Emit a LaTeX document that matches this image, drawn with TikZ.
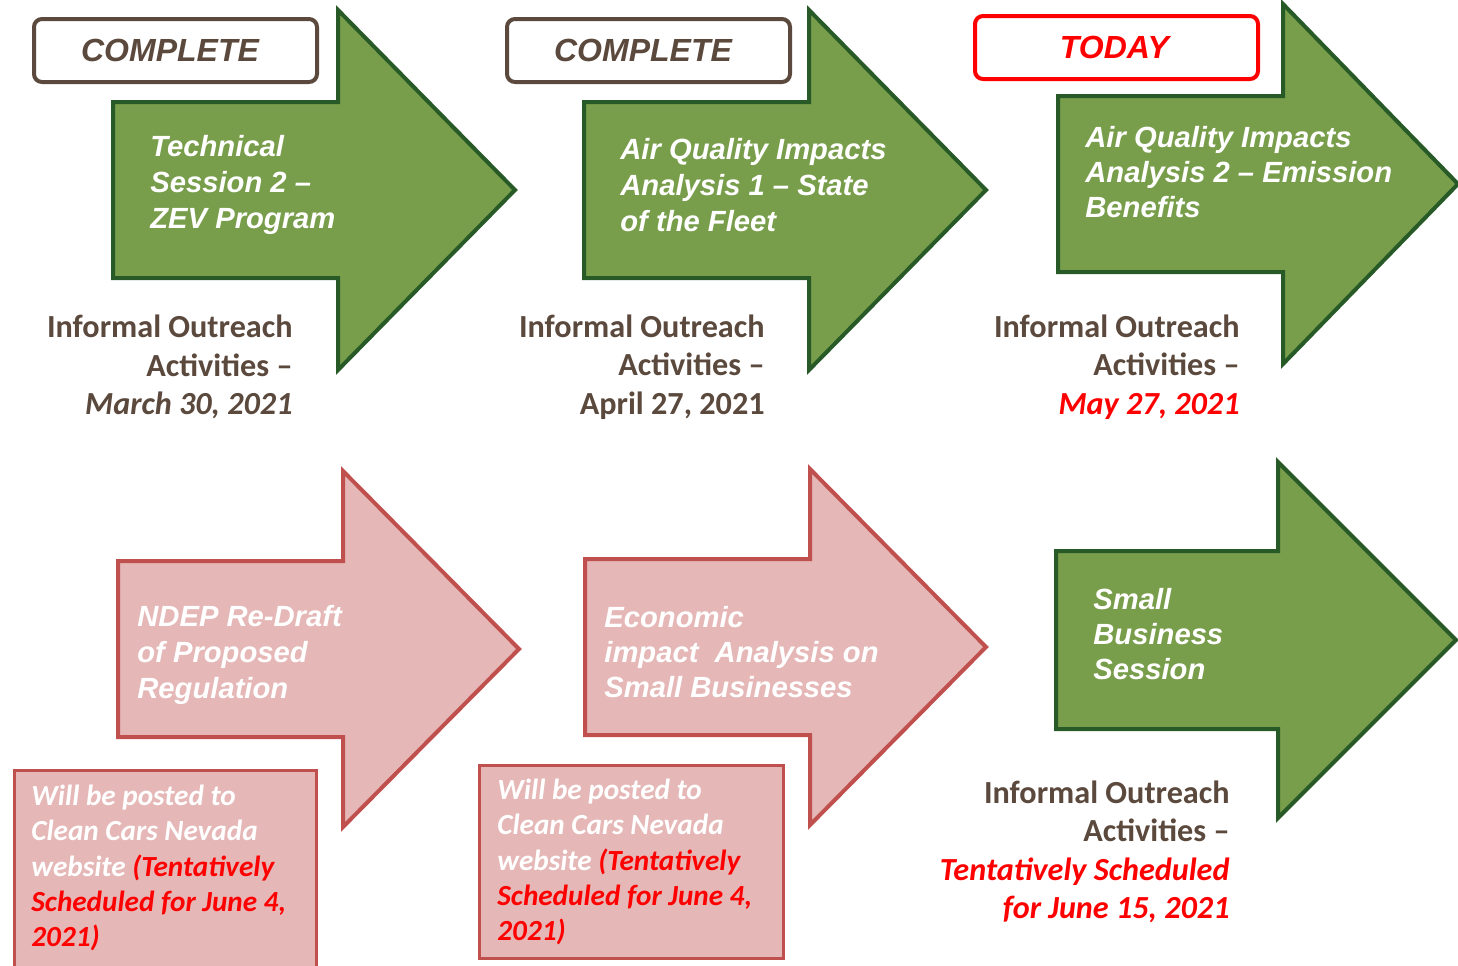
\documentclass[tikz,border=0pt]{standalone}
\usepackage{fontspec}
\setmainfont{Liberation Sans}
\newfontfamily\calibri{Carlito}
\definecolor{leaf}{RGB}{121,158,75}
\definecolor{leafedge}{RGB}{40,90,40}
\definecolor{blush}{RGB}{229,184,183}
\definecolor{blushedge}{RGB}{192,80,77}
\definecolor{bark}{RGB}{90,73,60}
\definecolor{alert}{RGB}{255,0,0}

\begin{document}
\begin{tikzpicture}
[x=0.5pt,y=-0.5pt
,garrow/.style={draw=leafedge,fill=leaf,line width=2pt}
,parrow/.style={draw=blushedge,fill=blush,line width=2pt}
,title/.style={font=\bfseries\itshape\fontsize{14.6}{18}\selectfont,text=white,align=left,anchor=west,inner sep=0pt}
,title2/.style={title,font=\bfseries\itshape\fontsize{14.6}{17.5}\selectfont}
,tag/.style={draw=bark,line width=2pt,rounded corners=4pt,minimum width=141.5pt,minimum height=31.5pt,font=\bfseries\itshape\fontsize{16}{19}\selectfont,text=bark}
,today/.style={tag,draw=alert,text=alert}
,outreach/.style={font=\calibri\bfseries\fontsize{16.1}{19.2}\selectfont,text=bark,align=right,anchor=east,inner sep=0pt}
,post/.style={draw=blushedge,fill=blush,line width=1.5pt}
,posttext/.style={font=\calibri\bfseries\itshape\fontsize{14.6}{17.6}\selectfont,text=white,align=left,anchor=west,inner sep=0pt}
]
\useasboundingbox (0,0) rectangle (1458,965);
% top row
\draw[garrow] (113,102) -- ++(225,0) -- ++(0,-92) -- ++(177,180) -- ++(-177,180) -- ++(0,-92) -- ++(-225,0) -- cycle;
\draw[garrow] (584,102) -- ++(225,0) -- ++(0,-92) -- ++(177,180) -- ++(-177,180) -- ++(0,-92) -- ++(-225,0) -- cycle;
\draw[garrow] (1058,96) -- ++(225,0) -- ++(0,-92) -- ++(175,180) -- ++(-175,180) -- ++(0,-92) -- ++(-225,0) -- cycle;
\node[tag] (tag1) at (175.5,50.5) {COMPLETE\kern5.5pt};
\node[tag] (tag2) at (648.5,50.5) {COMPLETE\kern5.5pt};
\node[today] (tag3) at (1116.5,47.5) {TODAY\kern2pt};
\node[title] (tech) at (150,185) {Technical\\Session 2 –\\ZEV Program};
\node[title] (aq1) at (620,185) {Air Quality Impacts\\Analysis 1 – State\\of the Fleet};
\node[title2] (aq2) at (1085,172) {Air Quality Impacts\\Analysis 2 – Emission\\Benefits};
\node[outreach] (out1) at (293,367) {Informal Outreach\\Activities –\\\textit{March 30, 2021}};
\node[outreach] (out2) at (765,367) {Informal Outreach\\Activities –\\April 27, 2021};
\node[outreach] (out3) at (1240,367) {Informal Outreach\\Activities –\\\textcolor{alert}{\textit{May 27, 2021}}};
% bottom row
\draw[parrow] (118,561) -- ++(225,0) -- ++(0,-90) -- ++(176,178) -- ++(-176,178) -- ++(0,-90) -- ++(-225,0) -- cycle;
\draw[parrow] (585,559) -- ++(225,0) -- ++(0,-90) -- ++(176,178) -- ++(-176,178) -- ++(0,-90) -- ++(-225,0) -- cycle;
\draw[garrow] (1056,551) -- ++(222,0) -- ++(0,-89) -- ++(178,178) -- ++(-178,178) -- ++(0,-89) -- ++(-222,0) -- cycle;
\node[title] (redraft) at (137,655) {NDEP Re-Draft\\of Proposed\\Regulation};
\node[title2] (econ) at (604,652) {Economic\\impact\ \ Analysis on\\Small Businesses};
\node[title2] (smallbiz) at (1093,634) {Small\\Business\\Session};
\draw[post] (14,770) rectangle (316,980);
\draw[post] (479,765) rectangle (783,958);
\node[posttext] (post1) at (31,868) {Will be posted to\\Clean Cars Nevada\\website \textcolor{alert}{(Tentatively}\\\textcolor{alert}{Scheduled for June 4,}\\\textcolor{alert}{2021)}};
\node[posttext] (post2) at (497,862) {Will be posted to\\Clean Cars Nevada\\website \textcolor{alert}{(Tentatively}\\\textcolor{alert}{Scheduled for June 4,}\\\textcolor{alert}{2021)}};
\node[outreach] (out6) at (1230,852) {Informal Outreach\\Activities –\\\textcolor{alert}{\textit{Tentatively Scheduled}}\\\textcolor{alert}{\textit{for June 15, 2021}}};
\end{tikzpicture}
\end{document}
